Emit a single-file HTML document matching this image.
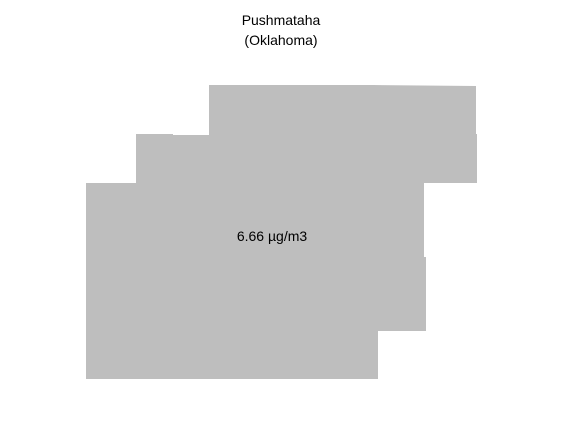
<!DOCTYPE html>
<html><head><meta charset="utf-8"><style>
body{margin:0;background:#fff;}
svg{display:block;font-family:"Liberation Sans",sans-serif;}
</style></head><body>
<svg width="563" height="425">
<text x="281" y="25" text-anchor="middle" font-size="14" fill="#000">Pushmataha</text>
<text x="281" y="45" text-anchor="middle" font-size="14" fill="#000">(Oklahoma)</text>
<polygon fill="#bebebe"
 points="209,85 373,85 476,86 476,134 477,134 477,183 424,183 424,257 426,257 426,331 378,331 378,379 86,379 86,183 136,183 136,134 173,134 173,135 209,135"/>
<text x="272" y="241" text-anchor="middle" font-size="14" fill="#000">6.66 µg/m3</text>
</svg>
</body></html>
